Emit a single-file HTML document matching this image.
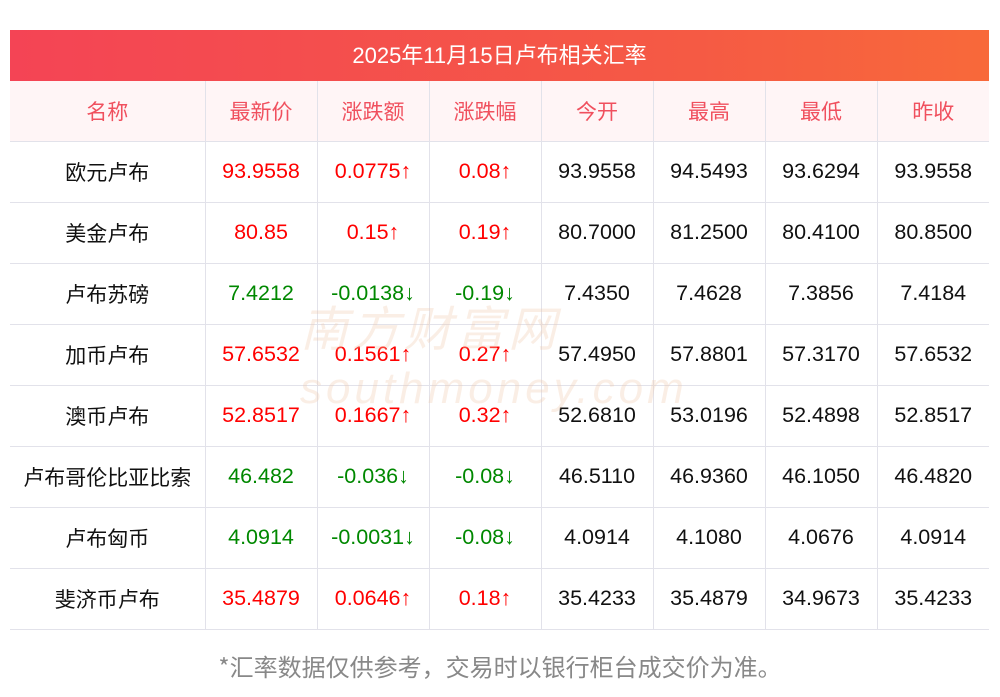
<!DOCTYPE html>
<html><head><meta charset="utf-8"><style>
body{margin:0;width:1000px;height:697px;background:#fff;font-family:"Liberation Sans","Noto Sans CJK SC",sans-serif;position:relative;overflow:hidden}
.title{position:absolute;left:10px;top:30px;width:979px;height:51px;background:linear-gradient(90deg,#f44455,#f55a44 70%,#f8693a);color:#fff;font-size:22px;line-height:51px;text-align:center}
table{position:absolute;left:10px;top:81px;width:979px;border-collapse:collapse;table-layout:fixed}
td{height:60px;border-bottom:1px solid #e2e2ea;border-left:1px solid #e2e2ea;text-align:center;font-size:21.5px;padding:0;color:#111;line-height:1}
td:first-child{border-left:none}
.c{font-family:"Noto Sans CJK SC",sans-serif;font-size:21px}
tr.h td{background:#fff5f6;color:#f0505e;height:60px;font-family:"Noto Sans CJK SC",sans-serif;font-size:21px}
.r{color:#f00}.g{color:#080}
.wm{position:absolute;left:300px;top:290px;font-size:48px;color:rgba(240,200,170,0.3);font-style:italic;letter-spacing:4px}
.foot{position:absolute;top:650px;width:1000px;text-align:center;color:#888;font-size:24px;font-family:"Noto Sans CJK SC",sans-serif;line-height:32px}
</style></head><body>
<div class="title">2025年11月15日卢布相关汇率</div>
<table>
<colgroup><col style="width:195px"><col style="width:112px"><col style="width:112px"><col style="width:112px"><col style="width:112px"><col style="width:112px"><col style="width:112px"><col style="width:112px"></colgroup>
<tr class="h"><td>名称</td><td>最新价</td><td>涨跌额</td><td>涨跌幅</td><td>今开</td><td>最高</td><td>最低</td><td>昨收</td></tr>
<tr><td class="c">欧元卢布</td><td class="r">93.9558</td><td class="r">0.0775↑</td><td class="r">0.08↑</td><td>93.9558</td><td>94.5493</td><td>93.6294</td><td>93.9558</td></tr>
<tr><td class="c">美金卢布</td><td class="r">80.85</td><td class="r">0.15↑</td><td class="r">0.19↑</td><td>80.7000</td><td>81.2500</td><td>80.4100</td><td>80.8500</td></tr>
<tr><td class="c">卢布苏磅</td><td class="g">7.4212</td><td class="g">-0.0138↓</td><td class="g">-0.19↓</td><td>7.4350</td><td>7.4628</td><td>7.3856</td><td>7.4184</td></tr>
<tr><td class="c">加币卢布</td><td class="r">57.6532</td><td class="r">0.1561↑</td><td class="r">0.27↑</td><td>57.4950</td><td>57.8801</td><td>57.3170</td><td>57.6532</td></tr>
<tr><td class="c">澳币卢布</td><td class="r">52.8517</td><td class="r">0.1667↑</td><td class="r">0.32↑</td><td>52.6810</td><td>53.0196</td><td>52.4898</td><td>52.8517</td></tr>
<tr><td class="c">卢布哥伦比亚比索</td><td class="g">46.482</td><td class="g">-0.036↓</td><td class="g">-0.08↓</td><td>46.5110</td><td>46.9360</td><td>46.1050</td><td>46.4820</td></tr>
<tr><td class="c">卢布匈币</td><td class="g">4.0914</td><td class="g">-0.0031↓</td><td class="g">-0.08↓</td><td>4.0914</td><td>4.1080</td><td>4.0676</td><td>4.0914</td></tr>
<tr><td class="c">斐济币卢布</td><td class="r">35.4879</td><td class="r">0.0646↑</td><td class="r">0.18↑</td><td>35.4233</td><td>35.4879</td><td>34.9673</td><td>35.4233</td></tr>
</table>
<div class="wm">南方财富网<br><span style="font-size:44px">southmoney.com</span></div>
<div class="foot">*汇率数据仅供参考，交易时以银行柜台成交价为准。</div>
</body></html>
